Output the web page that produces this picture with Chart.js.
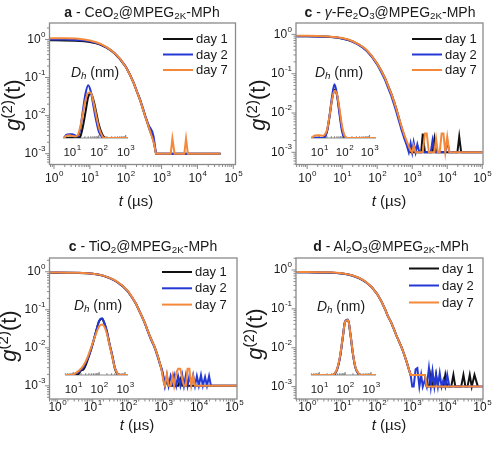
<!DOCTYPE html>
<html>
<head>
<meta charset="utf-8">
<title>g2(t) - MPEG2K-MPh coated particles</title>
<script src="https://cdn.jsdelivr.net/npm/chart.js@4.4.1/dist/chart.umd.min.js"></script>
<style>
  body { margin: 0; background: #fff; }
  #page { position: relative; width: 496px; height: 450px; overflow: hidden;
          font-family: "Liberation Sans", Arial, sans-serif; color: #1a1a1a; }
  canvas { position: absolute; left: 0; top: 0; }
  .txt { position: absolute; white-space: nowrap; line-height: 1; transform: translate(-50%, -50%); }
  .title { font-size: 14px; }
  .ytitle { font-size: 22px; transform: translate(-50%, -50%) rotate(-90deg); }
  .xtitle { font-size: 15px; }
  .dh { font-size: 14px; }
  sub { font-size: 70%; vertical-align: -0.25em; line-height: 0; }
  sup { font-size: 68%; vertical-align: 0.55em; line-height: 0; }
</style>
</head>
<body>
<div id="page">
  <canvas id="cvA" width="496" height="450"></canvas>
  <canvas id="cvB" width="496" height="450"></canvas>
  <canvas id="cvC" width="496" height="450"></canvas>
  <canvas id="cvD" width="496" height="450"></canvas>
  <canvas id="inA" width="496" height="450"></canvas>
  <canvas id="inB" width="496" height="450"></canvas>
  <canvas id="inC" width="496" height="450"></canvas>
  <canvas id="inD" width="496" height="450"></canvas>

  <div class="txt title" style="left:142px;top:12px"><b>a</b> - CeO<sub>2</sub>@MPEG<sub>2K</sub>-MPh</div>
  <div class="txt title" style="left:390px;top:12px"><b>c</b> - <i>γ</i>-Fe<sub>2</sub>O<sub>3</sub>@MPEG<sub>2K</sub>-MPh</div>
  <div class="txt title" style="left:143px;top:246px"><b>c</b> - TiO<sub>2</sub>@MPEG<sub>2K</sub>-MPh</div>
  <div class="txt title" style="left:391px;top:246px"><b>d</b> - Al<sub>2</sub>O<sub>3</sub>@MPEG<sub>2K</sub>-MPh</div>

  <div class="txt ytitle" style="left:13px;top:105px"><i>g</i><sup>(2)</sup>(t)</div>
  <div class="txt ytitle" style="left:258px;top:105px"><i>g</i><sup>(2)</sup>(t)</div>
  <div class="txt ytitle" style="left:9px;top:336px"><i>g</i><sup>(2)</sup>(t)</div>
  <div class="txt ytitle" style="left:255px;top:334px"><i>g</i><sup>(2)</sup>(t)</div>

  <div class="txt xtitle" style="left:136px;top:200px"><i>t</i> (µs)</div>
  <div class="txt xtitle" style="left:389px;top:200px"><i>t</i> (µs)</div>
  <div class="txt xtitle" style="left:137px;top:424px"><i>t</i> (µs)</div>
  <div class="txt xtitle" style="left:389px;top:424px"><i>t</i> (µs)</div>

  <div class="txt dh" style="left:95px;top:72px"><i>D</i><sub><i>h</i></sub> (nm)</div>
  <div class="txt dh" style="left:339px;top:72px"><i>D</i><sub><i>h</i></sub> (nm)</div>
  <div class="txt dh" style="left:98px;top:305px"><i>D</i><sub><i>h</i></sub> (nm)</div>
  <div class="txt dh" style="left:341px;top:306px"><i>D</i><sub><i>h</i></sub> (nm)</div>
</div>

<script>
// lag time (µs): decay part, then the noisy baseline part
const tUs = [
  0.5, 1, 2, 4, 7, 10, 15, 20, 30, 40, 50, 70, 100, 130, 170, 200, 250, 300, 350, 400, 450, 500, 550, 600, 700, 800, 900,
  1000, 1100, 1250, 1400, 1600, 1800, 2000, 2300, 2600, 3000, 3400, 3800, 4300, 4800, 5400, 6100, 6900, 7800, 8800,
  10000, 11500, 13000, 15000, 17000, 19500, 22000, 25000, 29000, 33000, 38000, 44000, 50000, 60000, 75000, 100000, 150000
];

// a - CeO2
const ceDay1 = [
  0.95, 0.95, 0.94, 0.93, 0.9, 0.86, 0.79, 0.72, 0.6, 0.5, 0.42, 0.3, 0.19, 0.12, 0.068, 0.045, 0.026, 0.015, 0.0095, 0.0065, 0.0046, 0.0035, 0.0028, 0.0021, 1e-3, 1e-3, 1e-3,
  1e-3, 1e-3, 1e-3, 1e-3, 1e-3, 1e-3, 1e-3, 1e-3, 1e-3, 1e-3, 1e-3, 1e-3, 1e-3, 1e-3, 1e-3, 1e-3, 1e-3, 1e-3, 1e-3,
  1e-3, 1e-3, 1e-3, 1e-3, 1e-3, 1e-3, 1e-3, 1e-3, 1e-3, 1e-3, 1e-3, 1e-3, null, null, null, null, null
];
const ceDay2 = [
  1.0, 1.0, 0.99, 0.97, 0.94, 0.89, 0.81, 0.74, 0.61, 0.51, 0.43, 0.31, 0.195, 0.122, 0.07, 0.046, 0.027, 0.016, 0.01, 0.007, 0.0052, 0.0045, 0.0038, 0.0028, 1e-3, 1e-3, 1e-3,
  1e-3, 1e-3, 1e-3, 1e-3, 1e-3, 1e-3, 1e-3, 1e-3, 1e-3, 1e-3, 1e-3, 1e-3, 1e-3, 1e-3, 1e-3, 1e-3, 1e-3, 1e-3, 1e-3,
  1e-3, 1e-3, 1e-3, 1e-3, 1e-3, 1e-3, 1e-3, 1e-3, 1e-3, 1e-3, 1e-3, 1e-3, null, null, null, null, null
];
const ceDay7 = [
  1.08, 1.08, 1.07, 1.05, 1.0, 0.94, 0.84, 0.76, 0.62, 0.51, 0.43, 0.31, 0.19, 0.12, 0.068, 0.045, 0.026, 0.015, 0.0095, 0.0065, 0.0046, 0.0034, 0.0026, 0.002, 1e-3, 1e-3, 1e-3,
  1e-3, 1e-3, 1e-3, 1e-3, 1e-3, 1e-3, 0.0025, 1e-3, 1e-3, 1e-3, 1e-3, 1e-3, 1e-3, 0.0025, 1e-3, 1e-3, 1e-3, 1e-3, 1e-3,
  1e-3, 1e-3, 1e-3, 1e-3, 1e-3, 1e-3, 1e-3, 1e-3, 1e-3, 1e-3, 1e-3, 1e-3, null, null, null, null, null
];

// c - gamma-Fe2O3
const feDay1 = [
  0.9, 0.9, 0.89, 0.87, 0.83, 0.79, 0.72, 0.66, 0.55, 0.46, 0.39, 0.28, 0.18, 0.12, 0.075, 0.052, 0.032, 0.02, 0.013, 0.0085, 0.0058, 0.0042, 0.0032, 0.0025, 0.0017, 0.0013, 1e-3,
  1e-3, 1e-3, 1e-3, 1e-3, 1e-3, 1e-3, 0.003, 1e-3, 1e-3, 1e-3, 1e-3, 1e-3, 0.0022, 1e-3, 1e-3, 1e-3, 1e-3, 1e-3, 1e-3,
  1e-3, 1e-3, 1e-3, 1e-3, 1e-3, 1e-3, 0.0025, 1e-3, 1e-3, 1e-3, 1e-3, 1e-3, 1e-3, 1e-3, 1e-3, 1e-3, null
];
const feDay2 = [
  0.9, 0.9, 0.89, 0.87, 0.83, 0.79, 0.72, 0.65, 0.54, 0.45, 0.38, 0.27, 0.17, 0.11, 0.068, 0.046, 0.028, 0.017, 0.011, 0.0072, 0.005, 0.0036, 0.0028, 0.0022, 0.0015, 1e-3, 0.0017,
  1e-3, 0.0018, 1e-3, 0.0016, 1e-3, 1e-3, 1e-3, 1e-3, 1e-3, 1e-3, 1e-3, 0.002, 1e-3, 1e-3, 1e-3, 1e-3, 1e-3, 1e-3, 1e-3,
  0.002, 1e-3, 1e-3, 1e-3, 1e-3, 1e-3, 1e-3, 1e-3, 1e-3, 1e-3, 1e-3, 1e-3, 1e-3, 1e-3, 1e-3, 1e-3, null
];
const feDay7 = [
  0.92, 0.92, 0.91, 0.89, 0.85, 0.81, 0.74, 0.67, 0.56, 0.47, 0.4, 0.285, 0.18, 0.12, 0.075, 0.052, 0.032, 0.02, 0.013, 0.0086, 0.006, 0.0044, 0.0034, 0.0027, 0.0019, 0.0014, 0.0011,
  1e-3, 0.0015, 1e-3, 1e-3, 1e-3, 1e-3, 1e-3, 0.003, 0.003, 1e-3, 1e-3, 1e-3, 1e-3, 0.0022, 1e-3, 1e-3, 0.003, 0.003, 1e-3,
  0.0025, 1e-3, 1e-3, 1e-3, 1e-3, 1e-3, 1e-3, 1e-3, 1e-3, 1e-3, 1e-3, 1e-3, 1e-3, 1e-3, 1e-3, 1e-3, null
];

// c - TiO2
const tiDay1 = [
  0.94, 0.94, 0.935, 0.93, 0.91, 0.88, 0.83, 0.78, 0.68, 0.6, 0.53, 0.42, 0.3, 0.21, 0.14, 0.1, 0.065, 0.044, 0.03, 0.022, 0.017, 0.0135, 0.011, 0.009, 0.0058, 0.0038, 0.0025,
  0.0016, 1e-3, 0.0014, 1e-3, 1e-3, 1e-3, 1e-3, 1e-3, 1e-3, 0.0015, 1e-3, 1e-3, 1e-3, 1e-3, 1e-3, 1e-3, 1e-3, 1e-3, 1e-3,
  1e-3, 1e-3, 1e-3, 1e-3, 1e-3, 1e-3, 1e-3, 1e-3, 1e-3, 1e-3, 1e-3, 1e-3, 1e-3, 1e-3, 1e-3, 1e-3, 1e-3
];
const tiDay2 = [
  0.95, 0.95, 0.945, 0.94, 0.92, 0.89, 0.84, 0.79, 0.69, 0.6, 0.53, 0.42, 0.3, 0.21, 0.14, 0.1, 0.064, 0.043, 0.029, 0.021, 0.016, 0.013, 0.0105, 0.0085, 0.0055, 0.0036, 0.0028,
  0.0018, 1e-3, 0.0019, 1e-3, 0.0018, 0.0012, 0.0019, 1e-3, 0.0018, 1e-3, 0.0019, 1e-3, 0.0019, 1e-3, 0.0018, 0.0011, 0.0019, 1e-3, 0.0018,
  1e-3, 0.0019, 1e-3, 0.0017, 1e-3, 0.0018, 1e-3, 1e-3, 1e-3, 1e-3, 1e-3, 1e-3, 1e-3, 1e-3, 1e-3, 1e-3, 1e-3
];
const tiDay7 = [
  0.95, 0.95, 0.945, 0.94, 0.92, 0.89, 0.84, 0.79, 0.69, 0.61, 0.54, 0.43, 0.31, 0.215, 0.14, 0.1, 0.065, 0.044, 0.03, 0.022, 0.017, 0.0135, 0.011, 0.009, 0.0058, 0.0038, 0.0024,
  0.0013, 1e-3, 0.002, 1e-3, 1e-3, 0.0018, 1e-3, 0.0022, 0.0028, 0.0028, 0.0015, 1e-3, 1e-3, 0.0028, 0.0028, 1e-3, 0.0018, 1e-3, 1e-3,
  1e-3, 1e-3, 1e-3, 1e-3, 1e-3, 1e-3, 1e-3, 1e-3, 1e-3, 1e-3, 1e-3, 1e-3, 1e-3, 1e-3, 1e-3, 1e-3, 1e-3
];

// d - Al2O3
const alDay1 = [
  0.87, 0.87, 0.865, 0.86, 0.84, 0.81, 0.76, 0.71, 0.62, 0.54, 0.47, 0.36, 0.24, 0.16, 0.095, 0.066, 0.045, 0.03, 0.021, 0.016, 0.0125, 0.01, 0.008, 0.0064, 0.0042, 0.0028, 0.002,
  0.002, 0.002, 0.002, 0.002, 0.002, 0.002, 0.002, 0.002, 1e-3, 1e-3, 0.002, 1e-3, 1e-3, 0.002, 1e-3, 1e-3, 1e-3, 1e-3, 0.002,
  1e-3, 1e-3, 1e-3, 0.002, 1e-3, 1e-3, 1e-3, 1e-3, 0.002, 1e-3, 1e-3, 0.002, 1e-3, 0.002, 1e-3, null, null
];
const alDay2 = [
  0.87, 0.87, 0.865, 0.86, 0.84, 0.81, 0.76, 0.71, 0.62, 0.54, 0.47, 0.36, 0.24, 0.16, 0.095, 0.066, 0.045, 0.03, 0.021, 0.016, 0.0125, 0.01, 0.008, 0.0064, 0.0042, 0.0028, 0.002,
  1e-3, 1e-3, 0.0028, 0.003, 1e-3, 0.002, 1e-3, 0.0015, 1e-3, 0.003, 1e-3, 0.0025, 1e-3, 0.002, 1e-3, 0.0022, 1e-3, 0.0015, 1e-3,
  0.002, 1e-3, 1e-3, 1e-3, 1e-3, 1e-3, 1e-3, 1e-3, 1e-3, 1e-3, 1e-3, 1e-3, 1e-3, 1e-3, 1e-3, 1e-3, 1e-3
];
const alDay7 = [
  0.88, 0.88, 0.875, 0.87, 0.85, 0.82, 0.77, 0.72, 0.63, 0.55, 0.475, 0.36, 0.24, 0.16, 0.095, 0.066, 0.045, 0.03, 0.021, 0.016, 0.0125, 0.01, 0.008, 0.0064, 0.0042, 0.0028, 0.002,
  0.002, 0.002, 0.002, 0.002, 0.002, 0.002, 0.002, 0.002, 1e-3, 1e-3, 1e-3, 1e-3, 1e-3, 1e-3, 1e-3, 1e-3, 1e-3, 1e-3, 1e-3,
  1e-3, 1e-3, 1e-3, 1e-3, 1e-3, 1e-3, 1e-3, 1e-3, 1e-3, 1e-3, 1e-3, 1e-3, 1e-3, 1e-3, 1e-3, 1e-3, null
];

// insets: hydrodynamic diameter distributions (nm, arbitrary units)
const dCe = [4, 5, 6, 8, 10, 13, 16, 20, 25, 32, 40, 50, 63, 80, 100, 130, 160, 200, 300, 600, 1300];
const ceDist1 = [0, 0, 0, 0, 0, 0, 0, 0.02, 0.2, 0.5, 0.78, 0.85, 0.72, 0.48, 0.25, 0.08, 0.01, 0, 0, 0, 0];
const ceDist2 = [0, 0, 0.06, 0.07, 0.07, 0.05, 0.03, 0.15, 0.5, 0.85, 1.0, 0.88, 0.6, 0.32, 0.12, 0.02, 0, 0, 0, 0, 0];
const ceDist7 = [0, 0, 0.04, 0.05, 0.04, 0.03, 0.05, 0.2, 0.45, 0.72, 0.86, 0.86, 0.68, 0.42, 0.2, 0.05, 0, 0, 0, 0, 0];

const dFe = [4, 5, 6, 8, 10, 13, 16, 20, 25, 32, 40, 50, 63, 80, 100, 130, 200, 500, 1000, 2000];
const feDist1 = [0, 0, 0, 0, 0, 0, 0.02, 0.12, 0.38, 0.72, 0.9, 0.8, 0.5, 0.18, 0.03, 0, 0, 0, 0, 0];
const feDist2 = [0, 0, 0, 0, 0, 0, 0.01, 0.12, 0.4, 0.78, 1.0, 0.82, 0.45, 0.12, 0.01, 0, 0, 0, 0, 0];
const feDist7 = [0, 0, 0.04, 0.05, 0.05, 0.04, 0.06, 0.15, 0.4, 0.72, 0.88, 0.82, 0.55, 0.22, 0.05, 0, 0, 0, 0, 0];

const dTi = [4, 6, 8, 10, 13, 16, 20, 25, 32, 40, 50, 63, 80, 100, 130, 160, 200, 250, 320, 400, 500, 630, 1300];
const tiDist1 = [0, 0, 0, 0, 0, 0.02, 0.08, 0.1, 0.2, 0.33, 0.46, 0.62, 0.8, 0.94, 0.98, 0.9, 0.75, 0.54, 0.33, 0.12, 0.02, 0, 0];
const tiDist2 = [0, 0, 0, 0, 0.03, 0.05, 0.09, 0.14, 0.24, 0.33, 0.47, 0.63, 0.8, 0.95, 0.99, 0.9, 0.76, 0.55, 0.35, 0.14, 0.03, 0, 0];
const tiDist7 = [0, 0, 0, 0.01, 0.04, 0.07, 0.11, 0.17, 0.26, 0.37, 0.49, 0.62, 0.75, 0.85, 0.88, 0.84, 0.72, 0.53, 0.32, 0.13, 0.03, 0, 0];

const dAl = [4, 10, 20, 32, 40, 50, 63, 80, 100, 130, 160, 200, 250, 320, 400, 500, 1000, 1600];
const alDist1 = [0, 0, 0, 0, 0.02, 0.11, 0.3, 0.63, 0.93, 0.96, 0.71, 0.37, 0.13, 0.03, 0, 0, 0, 0];
const alDist2 = [0, 0, 0, 0, 0.03, 0.11, 0.31, 0.64, 0.94, 0.97, 0.72, 0.37, 0.13, 0.03, 0, 0, 0, 0];
const alDist7 = [0, 0, 0, 0, 0.03, 0.12, 0.32, 0.64, 0.93, 0.96, 0.72, 0.38, 0.14, 0.04, 0, 0, 0, 0];

const dayLabels = ['day 1', 'day 2', 'day 7'];
const dayColors = ['#111111', '#2438d4', '#f4893c'];

const axisGray = '#8a8a8a';
const textColor = '#1a1a1a';
const FONT = '"Liberation Sans", Arial, sans-serif';

// "10" with a raised exponent
function drawPow(ctx, exp, x, y, align, size) {
    const supSize = Math.round(size * 0.68);
    ctx.font = size + 'px ' + FONT;
    const w1 = ctx.measureText('10').width;
    ctx.font = supSize + 'px ' + FONT;
    const w2 = ctx.measureText(String(exp)).width;
    const x0 = align === 'right' ? x - w1 - w2 - 0.5 : x - (w1 + w2) / 2;
    ctx.textAlign = 'left';
    ctx.textBaseline = 'middle';
    ctx.font = size + 'px ' + FONT;
    ctx.fillText('10', x0, y);
    ctx.font = supSize + 'px ' + FONT;
    ctx.fillText(String(exp), x0 + w1 + 0.5, y - size * 0.42);
}

// box, outward log ticks, tick labels and legend of a main panel
function makeFrame(cfg) {
    return {
        id: 'frame',
        afterDatasetsDraw(chart) {
            const { ctx, chartArea: a, scales: { x, y } } = chart;
            ctx.save();
            ctx.strokeStyle = axisGray;
            ctx.lineWidth = 1.3;
            ctx.strokeRect(a.left, a.top, a.right - a.left, a.bottom - a.top);

            ctx.beginPath();
            for (let e = -1; e <= 5; e++) {
                for (let m = 1; m <= 9; m++) {
                    const v = m * Math.pow(10, e);
                    if (v < x.min || v > x.max) continue;
                    const px = x.getPixelForValue(v);
                    ctx.moveTo(px, a.bottom);
                    ctx.lineTo(px, a.bottom + (m === 1 ? 4.5 : 2.5));
                }
            }
            for (let e = -4; e <= 0; e++) {
                for (let m = 1; m <= 9; m++) {
                    const v = m * Math.pow(10, e);
                    if (v < y.min || v > y.max) continue;
                    const py = y.getPixelForValue(v);
                    ctx.moveTo(a.left, py);
                    ctx.lineTo(a.left - (m === 1 ? 4.5 : 2.5), py);
                }
            }
            ctx.lineWidth = 1;
            ctx.stroke();

            ctx.fillStyle = textColor;
            for (let e = 0; e <= 5; e++) {
                const v = Math.pow(10, e);
                if (v < x.min || v > x.max) continue;
                drawPow(ctx, e, x.getPixelForValue(v), a.bottom + cfg.xGap, 'center', 12);
            }
            for (let e = -3; e <= 0; e++) {
                drawPow(ctx, e, a.left - 4, y.getPixelForValue(Math.pow(10, e)), 'right', 12);
            }

            // legend in the upper right corner
            chart.data.datasets.forEach((ds, i) => {
                const ly = cfg.legend[1] + i * cfg.legend[2];
                ctx.strokeStyle = ds.borderColor;
                ctx.lineWidth = 2;
                ctx.beginPath();
                ctx.moveTo(cfg.legend[0], ly);
                ctx.lineTo(cfg.legend[0] + 30, ly);
                ctx.stroke();
                ctx.fillStyle = textColor;
                ctx.font = '13px ' + FONT;
                ctx.textAlign = 'left';
                ctx.textBaseline = 'middle';
                ctx.fillText(ds.label, cfg.legend[0] + 33, ly + 0.5);
            });
            ctx.restore();
        }
    };
}

// bottom axis only, for the D_h insets
function makeInsetAxis() {
    return {
        id: 'insetAxis',
        beforeDatasetsDraw(chart) {
            const { ctx, chartArea: a, scales: { x } } = chart;
            ctx.save();
            ctx.strokeStyle = axisGray;
            ctx.lineWidth = 1.2;
            ctx.beginPath();
            ctx.moveTo(a.left, a.bottom);
            ctx.lineTo(a.right, a.bottom);
            for (let e = 0; e <= 3; e++) {
                for (let m = 1; m <= 9; m++) {
                    const v = m * Math.pow(10, e);
                    if (v < x.min || v > x.max) continue;
                    const px = x.getPixelForValue(v);
                    ctx.moveTo(px, a.bottom);
                    ctx.lineTo(px, a.bottom - (m === 1 ? 3 : 1.8));
                }
            }
            ctx.stroke();
            ctx.fillStyle = textColor;
            for (let e = 1; e <= 3; e++) {
                drawPow(ctx, e, x.getPixelForValue(Math.pow(10, e)), a.bottom + 15, 'center', 11.5);
            }
            ctx.restore();
        }
    };
}

function toPoints(xs, ys) {
    return xs.map((v, i) => ({ x: v, y: ys[i] }));
}

function buildDatasets(xs, series, width, smooth) {
    return series.map((ys, i) => ({
        label: dayLabels[i],
        data: toPoints(xs, ys),
        borderColor: dayColors[i],
        borderWidth: width,
        pointRadius: 0,
        tension: 0,
        cubicInterpolationMode: smooth ? 'monotone' : 'default',
        spanGaps: false,
        order: 3 - i
    }));
}

function padding(area) {
    return { left: area[0], top: area[1], right: 496 - area[2], bottom: 450 - area[3] };
}

const mainPanels = [
    { id: 'cvA', g: [ceDay1, ceDay2, ceDay7], area: [49.5, 23, 235.5, 164.5], x: [0.75, 1.15e5], y: [5.2e-4, 2.7], legend: [163, 39, 15.5], xGap: 14 },
    { id: 'cvB', g: [feDay1, feDay2, feDay7], area: [296, 23, 483, 164.5], x: [0.48, 1.05e5], y: [4.9e-4, 1.95], legend: [412, 39, 15.5], xGap: 14 },
    { id: 'cvC', g: [tiDay1, tiDay2, tiDay7], area: [49.5, 258, 237, 399], x: [0.63, 1.2e5], y: [4.5e-4, 2.3], legend: [162, 272, 16.3], xGap: 8.5 },
    { id: 'cvD', g: [alDay1, alDay2, alDay7], area: [296, 258, 483, 399], x: [0.48, 1.05e5], y: [4.8e-4, 2.03], legend: [409, 268.5, 17], xGap: 8.5 }
];

const insetPanels = [
    { id: 'inA', d: dCe, g: [ceDist1, ceDist2, ceDist7], area: [63, 80, 128, 138], x: [4.6, 1220] },
    { id: 'inB', d: dFe, g: [feDist1, feDist2, feDist7], area: [311, 79, 376, 138], x: [4.6, 1820] },
    { id: 'inC', d: dTi, g: [tiDist1, tiDist2, tiDist7], area: [65, 312, 128, 375], x: [4.8, 1300] },
    { id: 'inD', d: dAl, g: [alDist1, alDist2, alDist7], area: [311, 312, 376, 375], x: [4.8, 1560] }
];

const common = {
    responsive: false,
    animation: false,
    devicePixelRatio: 1,
    events: [],
    plugins: { legend: { display: false }, tooltip: { enabled: false }, title: { display: false } }
};

mainPanels.forEach(p => {
    new Chart(document.getElementById(p.id), {
        type: 'line',
        data: { datasets: buildDatasets(tUs, p.g, 2, false) },
        options: {
            ...common,
            layout: { padding: padding(p.area) },
            scales: {
                x: { type: 'logarithmic', min: p.x[0], max: p.x[1], display: false },
                y: { type: 'logarithmic', min: p.y[0], max: p.y[1], display: false }
            }
        },
        plugins: [makeFrame(p)]
    });
});

insetPanels.forEach(p => {
    new Chart(document.getElementById(p.id), {
        type: 'line',
        data: { datasets: buildDatasets(p.d, p.g, 2, true) },
        options: {
            ...common,
            layout: { padding: padding(p.area) },
            scales: {
                x: { type: 'logarithmic', min: p.x[0], max: p.x[1], display: false },
                y: { type: 'linear', min: 0, max: 1.1, display: false }
            }
        },
        plugins: [makeInsetAxis()]
    });
});
</script>
</body>
</html>
